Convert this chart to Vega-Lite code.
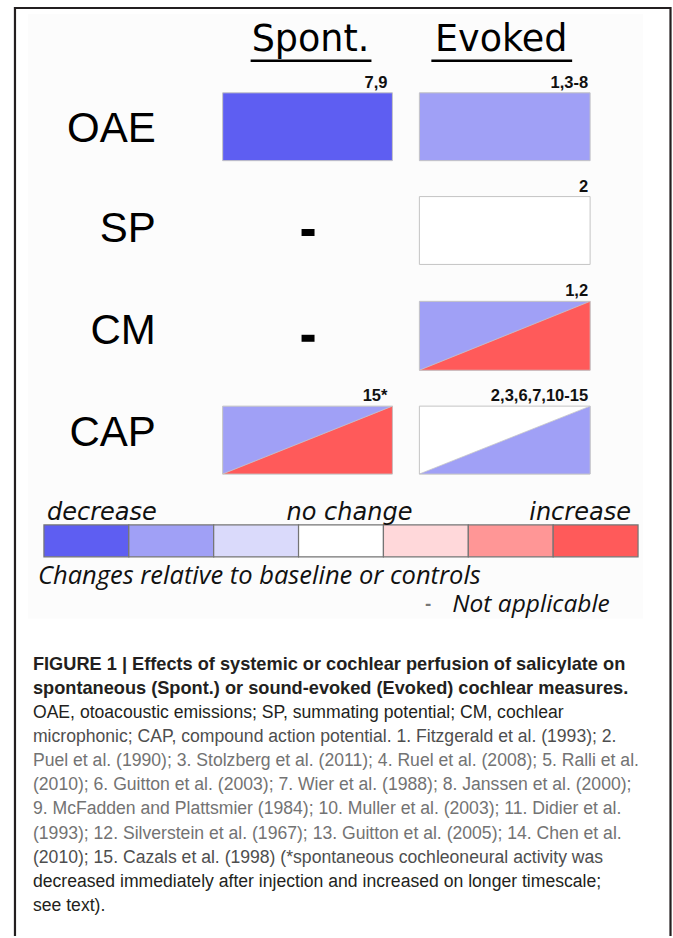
{
  "$schema": "https://vega.github.io/schema/vega-lite/v6.json",
  "width": 673,
  "height": 938,
  "autosize": {"type": "fit", "contains": "padding"},
  "padding": 0,
  "background": "white",
  "config": {"view": {"stroke": null}},
  "datasets": {
    "panel": [{"x": 28, "y": 14, "x2": 644, "y2": 620}],
    "frame": [
      {"side": "left", "x": 15, "y": 7, "x2": 15, "y2": 938},
      {"side": "top", "x": 14, "y": 8, "x2": 672, "y2": 8},
      {"side": "right", "x": 671.5, "y": 7, "x2": 671.5, "y2": 938}
    ],
    "headers": [
      {"label": "Spont.", "x": 311, "y": 51},
      {"label": "Evoked", "x": 502, "y": 51}
    ],
    "underlines": [
      {"label": "Spont.", "x": 251, "x2": 372, "y": 61, "y2": 61},
      {"label": "Evoked", "x": 432, "x2": 573, "y": 61, "y2": 61}
    ],
    "rows": [
      {"label": "OAE", "x": 156, "y": 142},
      {"label": "SP", "x": 156, "y": 243},
      {"label": "CM", "x": 156, "y": 345},
      {"label": "CAP", "x": 156, "y": 447}
    ],
    "cells": [
      {"measure": "OAE", "condition": "Spont.", "effect": "strong decrease", "x": 223, "x2": 393, "y": 93, "y2": 161},
      {"measure": "OAE", "condition": "Evoked", "effect": "moderate decrease", "x": 420, "x2": 591, "y": 93, "y2": 161},
      {"measure": "SP", "condition": "Evoked", "effect": "no change", "x": 420, "x2": 591, "y": 197, "y2": 265},
      {"measure": "CM", "condition": "Evoked", "effect": "moderate decrease", "x": 420, "x2": 591, "y": 302, "y2": 371},
      {"measure": "CAP", "condition": "Spont.", "effect": "moderate decrease", "x": 223, "x2": 393, "y": 407, "y2": 475},
      {"measure": "CAP", "condition": "Evoked", "effect": "no change", "x": 420, "x2": 591, "y": 407, "y2": 475}
    ],
    "triangles": [
      {"cell": "CM-Evoked", "effect": "strong increase", "x": 420, "y": 371, "y2": 371},
      {"cell": "CM-Evoked", "effect": "strong increase", "x": 591, "y": 302, "y2": 371},
      {"cell": "CAP-Spont", "effect": "strong increase", "x": 223, "y": 475, "y2": 475},
      {"cell": "CAP-Spont", "effect": "strong increase", "x": 393, "y": 407, "y2": 475},
      {"cell": "CAP-Evoked", "effect": "moderate decrease", "x": 420, "y": 475, "y2": 475},
      {"cell": "CAP-Evoked", "effect": "moderate decrease", "x": 591, "y": 407, "y2": 475}
    ],
    "refs": [
      {"label": "7,9", "x": 388, "y": 88},
      {"label": "1,3-8", "x": 589, "y": 88},
      {"label": "2", "x": 589, "y": 192},
      {"label": "1,2", "x": 589, "y": 297},
      {"label": "15*", "x": 388, "y": 402},
      {"label": "2,3,6,7,10-15", "x": 589, "y": 402}
    ],
    "na": [
      {"measure": "SP", "x": 302, "x2": 315, "y": 233, "y2": 233},
      {"measure": "CM", "x": 302, "x2": 315, "y": 339, "y2": 339}
    ],
    "legend": [
      {"effect": "strong decrease", "x": 44, "x2": 129, "y": 526, "y2": 558},
      {"effect": "moderate decrease", "x": 129, "x2": 214, "y": 526, "y2": 558},
      {"effect": "slight decrease", "x": 214, "x2": 299, "y": 526, "y2": 558},
      {"effect": "no change", "x": 299, "x2": 384, "y": 526, "y2": 558},
      {"effect": "slight increase", "x": 384, "x2": 469, "y": 526, "y2": 558},
      {"effect": "moderate increase", "x": 469, "x2": 554, "y": 526, "y2": 558},
      {"effect": "strong increase", "x": 554, "x2": 639, "y": 526, "y2": 558}
    ],
    "legendLabels": [
      {"label": "decrease", "x": 47, "y": 521},
      {"label": "no change", "x": 287, "y": 521},
      {"label": "increase", "x": 530, "y": 521}
    ],
    "notes": [
      {"label": "Changes relative to baseline or controls", "x": 38, "y": 585}
    ],
    "notes2": [
      {"label": "Not applicable", "x": 453, "y": 613}
    ],
    "noteDash": [{"label": "-", "x": 426, "y": 611}],
    "caption": [
      {"line": 1, "kind": "title", "label": "FIGURE 1 | Effects of systemic or cochlear perfusion of salicylate on", "x": 33, "y": 671},
      {"line": 2, "kind": "title", "label": "spontaneous (Spont.) or sound-evoked (Evoked) cochlear measures.", "x": 33, "y": 695.2},
      {"line": 3, "kind": "text", "label": "OAE, otoacoustic emissions; SP, summating potential; CM, cochlear", "x": 33, "y": 719.4},
      {"line": 4, "kind": "mixed", "label": "microphonic; CAP, compound action potential. 1. Fitzgerald et al. (1993); 2.", "x": 33, "y": 743.6},
      {"line": 5, "kind": "refs", "label": "Puel et al. (1990); 3. Stolzberg et al. (2011); 4. Ruel et al. (2008); 5. Ralli et al.", "x": 33, "y": 767.8},
      {"line": 6, "kind": "refs", "label": "(2010); 6. Guitton et al. (2003); 7. Wier et al. (1988); 8. Janssen et al. (2000);", "x": 33, "y": 792},
      {"line": 7, "kind": "refs", "label": "9. McFadden and Plattsmier (1984); 10. Muller et al. (2003); 11. Didier et al.", "x": 33, "y": 816.2},
      {"line": 8, "kind": "refs", "label": "(1993); 12. Silverstein et al. (1967); 13. Guitton et al. (2005); 14. Chen et al.", "x": 33, "y": 840.4},
      {"line": 9, "kind": "mixed", "label": "(2010); 15. Cazals et al. (1998) (*spontaneous cochleoneural activity was", "x": 33, "y": 864.6},
      {"line": 10, "kind": "text", "label": "decreased immediately after injection and increased on longer timescale;", "x": 33, "y": 888.8},
      {"line": 11, "kind": "text", "label": "see text).", "x": 33, "y": 913}
    ]
  },
  "encoding": {
    "x": {"field": "x", "type": "quantitative", "scale": {"domain": [0, 673], "nice": false, "zero": false}, "axis": null},
    "y": {"field": "y", "type": "quantitative", "scale": {"domain": [0, 938], "nice": false, "zero": false, "reverse": true}, "axis": null}
  },
  "layer": [
    {
      "data": {"name": "panel"},
      "mark": {"type": "rect", "fill": "#fcfcfc"},
      "encoding": {"x2": {"field": "x2"}, "y2": {"field": "y2"}}
    },
    {
      "data": {"name": "frame"},
      "mark": {"type": "rule", "stroke": "#231f20", "strokeWidth": 2.2},
      "encoding": {"x2": {"field": "x2"}, "y2": {"field": "y2"}}
    },
    {
      "data": {"name": "headers"},
      "mark": {"type": "text", "align": "center", "baseline": "alphabetic", "font": "DejaVu Sans", "fontSize": 36.5, "color": "#000000"},
      "encoding": {"text": {"field": "label"}}
    },
    {
      "data": {"name": "underlines"},
      "mark": {"type": "rule", "stroke": "#000000", "strokeWidth": 2.5},
      "encoding": {"x2": {"field": "x2"}, "y2": {"field": "y2"}}
    },
    {
      "data": {"name": "rows"},
      "mark": {"type": "text", "align": "right", "baseline": "alphabetic", "font": "Liberation Sans", "fontSize": 42, "color": "#000000"},
      "encoding": {"text": {"field": "label"}}
    },
    {
      "data": {"name": "cells"},
      "mark": {"type": "rect", "stroke": "#c4c4c4", "strokeWidth": 1},
      "encoding": {
        "x2": {"field": "x2"}, "y2": {"field": "y2"},
        "fill": {"field": "effect", "type": "nominal", "legend": null,
          "scale": {"domain": ["strong decrease", "moderate decrease", "slight decrease", "no change", "slight increase", "moderate increase", "strong increase"],
                    "range": ["#5e5ef2", "#a0a0f6", "#dadafb", "#ffffff", "#ffd8da", "#ff9696", "#ff5a5a"]}}
      }
    },
    {
      "data": {"name": "triangles"},
      "mark": {"type": "area", "stroke": "#c8c8c8", "strokeWidth": 0.8, "opacity": 1},
      "encoding": {
        "y2": {"field": "y2"},
        "detail": {"field": "cell"},
        "fill": {"field": "effect", "type": "nominal", "legend": null,
          "scale": {"domain": ["strong decrease", "moderate decrease", "slight decrease", "no change", "slight increase", "moderate increase", "strong increase"],
                    "range": ["#5e5ef2", "#a0a0f6", "#dadafb", "#ffffff", "#ffd8da", "#ff9696", "#ff5a5a"]}}
      }
    },
    {
      "data": {"name": "refs"},
      "mark": {"type": "text", "align": "right", "baseline": "alphabetic", "font": "Liberation Sans", "fontWeight": "bold", "fontSize": 16.5, "color": "#111111"},
      "encoding": {"text": {"field": "label"}}
    },
    {
      "data": {"name": "na"},
      "mark": {"type": "rule", "stroke": "#000000", "strokeWidth": 7},
      "encoding": {"x2": {"field": "x2"}, "y2": {"field": "y2"}}
    },
    {
      "data": {"name": "legend"},
      "mark": {"type": "rect", "stroke": "#747474", "strokeWidth": 1.2},
      "encoding": {
        "x2": {"field": "x2"}, "y2": {"field": "y2"},
        "fill": {"field": "effect", "type": "nominal", "legend": null,
          "scale": {"domain": ["strong decrease", "moderate decrease", "slight decrease", "no change", "slight increase", "moderate increase", "strong increase"],
                    "range": ["#5e5ef2", "#a0a0f6", "#dadafb", "#ffffff", "#ffd8da", "#ff9696", "#ff5a5a"]}}
      }
    },
    {
      "data": {"name": "legendLabels"},
      "mark": {"type": "text", "align": "left", "baseline": "alphabetic", "font": "DejaVu Sans", "fontStyle": "italic", "fontSize": 24, "color": "#111111"},
      "encoding": {"text": {"field": "label"}}
    },
    {
      "data": {"name": "notes"},
      "mark": {"type": "text", "align": "left", "baseline": "alphabetic", "font": "Open Sans", "fontStyle": "italic", "fontSize": 25.5, "color": "#111111"},
      "encoding": {"text": {"field": "label"}}
    },
    {
      "data": {"name": "notes2"},
      "mark": {"type": "text", "align": "left", "baseline": "alphabetic", "font": "Open Sans", "fontStyle": "italic", "fontSize": 24.5, "color": "#111111"},
      "encoding": {"text": {"field": "label"}}
    },
    {
      "data": {"name": "noteDash"},
      "mark": {"type": "text", "align": "left", "baseline": "alphabetic", "font": "Open Sans", "fontWeight": "bold", "fontSize": 18, "color": "#777777"},
      "encoding": {"text": {"field": "label"}}
    },
    {
      "data": {"name": "caption"},
      "transform": [{"filter": "datum.kind === 'title'"}],
      "mark": {"type": "text", "align": "left", "baseline": "alphabetic", "font": "Liberation Sans", "fontWeight": "bold", "fontSize": 18.2},
      "encoding": {
        "text": {"field": "label"},
        "color": {"field": "kind", "type": "nominal", "legend": null,
          "scale": {"domain": ["title", "text", "mixed", "refs"], "range": ["#231f20", "#231f20", "#4e4e4e", "#737373"]}}
      }
    },
    {
      "data": {"name": "caption"},
      "transform": [{"filter": "datum.kind !== 'title'"}],
      "mark": {"type": "text", "align": "left", "baseline": "alphabetic", "font": "Liberation Sans", "fontSize": 17.6},
      "encoding": {
        "text": {"field": "label"},
        "color": {"field": "kind", "type": "nominal", "legend": null,
          "scale": {"domain": ["title", "text", "mixed", "refs"], "range": ["#231f20", "#231f20", "#4e4e4e", "#737373"]}}
      }
    }
  ]
}
